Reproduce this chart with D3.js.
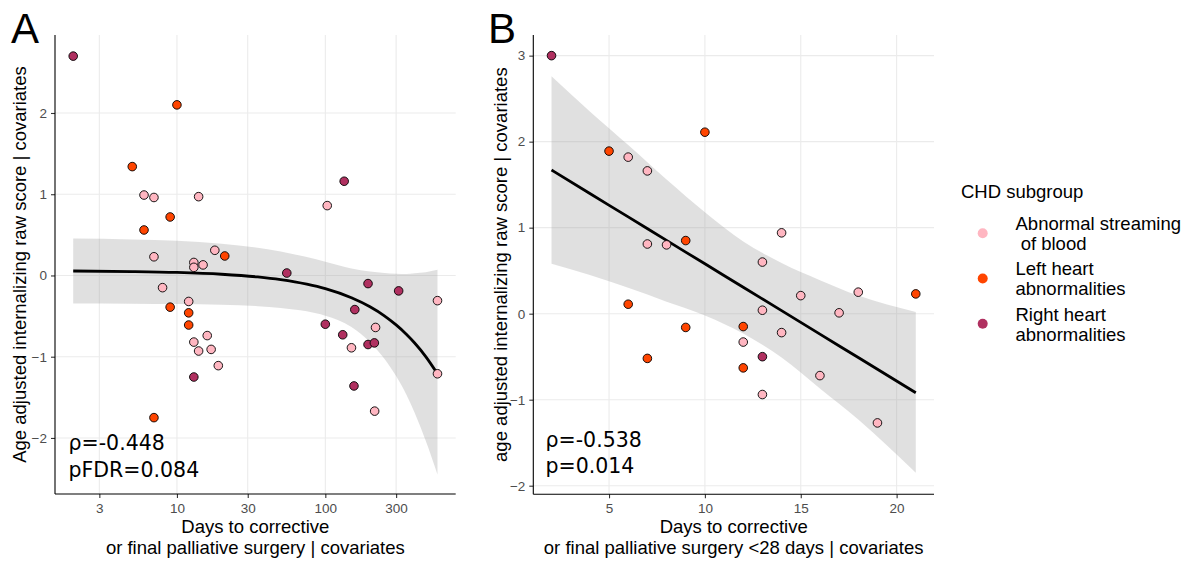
<!DOCTYPE html>
<html>
<head>
<meta charset="utf-8">
<script src="https://cdn.jsdelivr.net/npm/d3@7"></script>
<style>
  body { margin: 0; background: #fff; }
  text { font-family: "Liberation Sans", Arial, Helvetica, sans-serif; }
</style>
</head>
<body>
<svg id="chart" width="1189" height="562"></svg>
<script>
// subgroup keys and colours
const groups = ["ASB", "LHA", "RHA"];
const groupLabels = [["Abnormal streaming", " of blood"], ["Left heart", "abnormalities"], ["Right heart", "abnormalities"]];
const groupColors = ["#FFB6C1", "#FF4500", "#B03060"];

// panel A: all patients (days on log axis)
const daysA  = [2, 10, 5, 6, 7, 14, 9, 6, 134, 103, 7, 18, 21, 13, 13, 15, 55, 194, 312, 570, 8, 12, 9, 12, 12, 16, 13, 14, 17, 19, 13, 7, 100, 131, 158, 150, 218, 194, 214, 156, 215, 570];
const scoreA = [2.70, 2.10, 1.34, 0.99, 0.96, 0.97, 0.72, 0.56, 1.16, 0.86, 0.23, 0.31, 0.24, 0.16, 0.10, 0.13, 0.03, -0.10, -0.19, -0.31, -0.15, -0.32, -0.39, -0.46, -0.61, -0.74, -0.82, -0.93, -0.91, -1.11, -1.25, -1.75, -0.60, -0.73, -0.42, -0.89, -0.64, -0.85, -0.83, -1.36, -1.67, -1.21];
const groupA = ["RHA", "LHA", "LHA", "ASB", "ASB", "ASB", "LHA", "LHA", "RHA", "ASB", "ASB", "ASB", "LHA", "ASB", "ASB", "ASB", "RHA", "RHA", "RHA", "ASB", "ASB", "ASB", "LHA", "LHA", "LHA", "ASB", "ASB", "ASB", "ASB", "ASB", "RHA", "LHA", "RHA", "RHA", "RHA", "ASB", "ASB", "RHA", "RHA", "RHA", "ASB", "ASB"];
// smooth line and confidence band
const smoothDaysA = [2, 5, 10, 20, 35, 50, 75, 100, 150, 200, 250, 300, 350, 400, 475, 570];
const smoothFitA  = [0.055, 0.048, 0.037, 0.015, -0.018, -0.052, -0.108, -0.163, -0.275, -0.386, -0.497, -0.609, -0.720, -0.831, -0.998, -1.210];
const smoothHiA   = [0.455, 0.444, 0.426, 0.391, 0.342, 0.295, 0.226, 0.169, 0.085, 0.049, 0.030, 0.022, 0.019, 0.027, 0.040, 0.070];
const smoothLoA   = [-0.345, -0.347, -0.352, -0.361, -0.378, -0.399, -0.441, -0.495, -0.634, -0.821, -1.024, -1.239, -1.459, -1.690, -2.036, -2.450];
const xTicksA = [3, 10, 30, 100, 300];
const yTicksA = [-2, -1, 0, 1, 2];
const yDomainA = [-2.69, 2.96];

// panel B: surgery < 28 days
const daysB  = [2, 10, 5, 6, 7, 7, 8, 9, 14, 13, 15, 18, 21, 6, 13, 17, 9, 12, 14, 12, 13, 7, 12, 16, 13, 19];
const scoreB = [3.00, 2.11, 1.89, 1.82, 1.66, 0.81, 0.80, 0.85, 0.94, 0.60, 0.21, 0.25, 0.23, 0.11, 0.04, 0.01, -0.16, -0.15, -0.22, -0.33, -0.50, -0.52, -0.63, -0.72, -0.94, -1.27];
const groupB = ["RHA", "LHA", "LHA", "ASB", "ASB", "ASB", "ASB", "LHA", "ASB", "ASB", "ASB", "ASB", "LHA", "LHA", "ASB", "ASB", "LHA", "LHA", "ASB", "ASB", "RHA", "LHA", "LHA", "ASB", "ASB", "ASB"];
const smoothDaysB = [2, 4, 6, 8, 10, 12, 14, 16, 18, 21];
const smoothFitB  = [1.670, 1.397, 1.125, 0.852, 0.580, 0.307, 0.036, -0.238, -0.510, -0.920];
const smoothHiB   = [2.76, 2.35, 1.96, 1.56, 1.18, 0.84, 0.59, 0.39, 0.21, 0.02];
const smoothLoB   = [0.58, 0.45, 0.30, 0.14, -0.02, -0.23, -0.51, -0.87, -1.23, -1.85];
const xTicksB = [5, 10, 15, 20];
const yTicksB = [-2, -1, 0, 1, 2, 3];
const yDomainB = [-2.10, 3.24];

const color = d3.scaleOrdinal().domain(groups).range(groupColors);
const svg = d3.select("#chart");

function drawPanel(p) {
    const g = svg.append("g");
    const [x0, x1] = p.xRange, [y0, y1] = p.yRange;
    const x = p.x, y = d3.scaleLinear().domain(p.yDomain).range([y0, y1]);

    // grid
    g.selectAll(".gx").data(p.xTicks).join("line")
        .attr("x1", d => x(d)).attr("x2", d => x(d)).attr("y1", y0).attr("y2", y1)
        .attr("stroke", "#EBEBEB").attr("stroke-width", 1.1);
    g.selectAll(".gy").data(p.yTicks).join("line")
        .attr("x1", x0).attr("x2", x1).attr("y1", d => y(d)).attr("y2", d => y(d))
        .attr("stroke", "#EBEBEB").attr("stroke-width", 1.1);

    // smooth
    const band = p.smooth.days.map((d, i) => ({ x: d, fit: p.smooth.fit[i], lo: p.smooth.lo[i], hi: p.smooth.hi[i] }));
    g.append("path").datum(band)
        .attr("d", d3.area().x(d => x(d.x)).y0(d => y(d.lo)).y1(d => y(d.hi)).curve(d3.curveMonotoneX))
        .attr("fill", "#999999").attr("fill-opacity", 0.3);
    g.append("path").datum(band)
        .attr("d", d3.line().x(d => x(d.x)).y(d => y(d.fit)).curve(d3.curveMonotoneX))
        .attr("fill", "none").attr("stroke", "#000").attr("stroke-width", 2.8);

    // points
    g.selectAll("circle").data(p.days).join("circle")
        .attr("cx", d => x(d)).attr("cy", (d, i) => y(p.score[i]))
        .attr("r", 4.3)
        .attr("fill", (d, i) => color(p.group[i]))
        .attr("stroke", "#000").attr("stroke-width", 0.9);

    // axes
    const ax = g.append("g").attr("transform", `translate(0,${y0})`)
        .call(d3.axisBottom(x).tickValues(p.xTicks).tickFormat(d3.format("d")).tickSize(4).tickPadding(4));
    const ay = g.append("g").attr("transform", `translate(${x0},0)`)
        .call(d3.axisLeft(y).tickValues(p.yTicks).tickFormat(d3.format("d")).tickSize(4).tickPadding(4));
    [ax, ay].forEach(a => {
        a.select(".domain").remove();
        a.selectAll(".tick line").attr("stroke", "#333333").attr("stroke-width", 1.1);
        a.selectAll(".tick text").attr("fill", "#4D4D4D").style("font-size", "13.5px")
            .style("font-family", "'Liberation Sans', Arial, sans-serif");
    });
    ax.selectAll(".tick text").attr("dy", null).attr("y", 18.5);
    g.append("line").attr("x1", x0).attr("x2", x1).attr("y1", y0).attr("y2", y0)
        .attr("stroke", "#000").attr("stroke-width", 1.1);
    g.append("line").attr("x1", x0).attr("x2", x0).attr("y1", y0).attr("y2", y1)
        .attr("stroke", "#000").attr("stroke-width", 1.1);

    // titles
    const cx = (x0 + x1) / 2;
    g.selectAll(".xt").data(p.xTitle).join("text")
        .attr("x", cx).attr("y", (d, i) => 533 + i * 20.5)
        .attr("text-anchor", "middle").style("font-size", "18.5px").style("white-space", "pre")
        .text(d => d);
    g.append("text")
        .attr("transform", `translate(${p.yTitleX},${(y0 + y1) / 2}) rotate(-90)`)
        .attr("text-anchor", "middle").style("font-size", "18.5px")
        .text(p.yTitle);
    g.append("text").attr("x", p.tagX).attr("y", 42.7)
        .style("font-size", "42px").text(p.tag);

    // correlation label
    g.selectAll(".stat").data(p.stat).join("text")
        .attr("x", p.statX).attr("y", (d, i) => p.statY + i * 26.7)
        .style("font-family", "'DejaVu Sans', sans-serif").style("font-size", "20.5px")
        .text(d => d);
}

// axis domains expanded by 5% as ggplot does
const logExt = d3.extent(daysA).map(Math.log10);
const logPad = (logExt[1] - logExt[0]) * 0.05;
const linExt = d3.extent(daysB);
const linPad = (linExt[1] - linExt[0]) * 0.05;

drawPanel({
    tag: "A", tagX: 11, days: daysA, score: scoreA, group: groupA,
    smooth: { days: smoothDaysA, fit: smoothFitA, lo: smoothLoA, hi: smoothHiA },
    x: d3.scaleLog().domain([10 ** (logExt[0] - logPad), 10 ** (logExt[1] + logPad)]).range([55, 455.7]),
    xRange: [55, 455.7], yRange: [494, 35], yDomain: yDomainA,
    xTicks: xTicksA, yTicks: yTicksA,
    xTitle: ["Days to corrective", "or final palliative surgery | covariates"],
    yTitle: "Age adjusted internalizing raw score | covariates", yTitleX: 26,
    stat: ["ρ=-0.448", "pFDR=0.084"], statX: 68.5, statY: 450
});

drawPanel({
    tag: "B", tagX: 488, days: daysB, score: scoreB, group: groupB,
    smooth: { days: smoothDaysB, fit: smoothFitB, lo: smoothLoB, hi: smoothHiB },
    x: d3.scaleLinear().domain([linExt[0] - linPad, linExt[1] + linPad]).range([533.3, 934]),
    xRange: [533.3, 934], yRange: [494.3, 35], yDomain: yDomainB,
    xTicks: xTicksB, yTicks: yTicksB,
    xTitle: ["Days to corrective", "or final palliative surgery <28 days | covariates"],
    yTitle: "age adjusted internalizing raw score | covariates", yTitleX: 507,
    stat: ["ρ=-0.538", "p=0.014"], statX: 545.5, statY: 446.7
});

// legend
const legend = svg.append("g");
legend.append("text").attr("x", 961).attr("y", 198).style("font-size", "18.5px").text("CHD subgroup");
const items = legend.selectAll(".item").data(groups).join("g")
    .attr("transform", (d, i) => `translate(0,${233.3 + i * 45.2})`);
items.append("circle").attr("cx", 982.7).attr("cy", 0).attr("r", 5).attr("fill", d => color(d));
items.selectAll("text").data((d, i) => groupLabels[i]).join("text")
    .attr("x", 1015.5).attr("y", (d, j) => -3.2 + j * 20)
    .style("font-size", "18.5px").style("white-space", "pre")
    .text(d => d);
</script>
</body>
</html>
